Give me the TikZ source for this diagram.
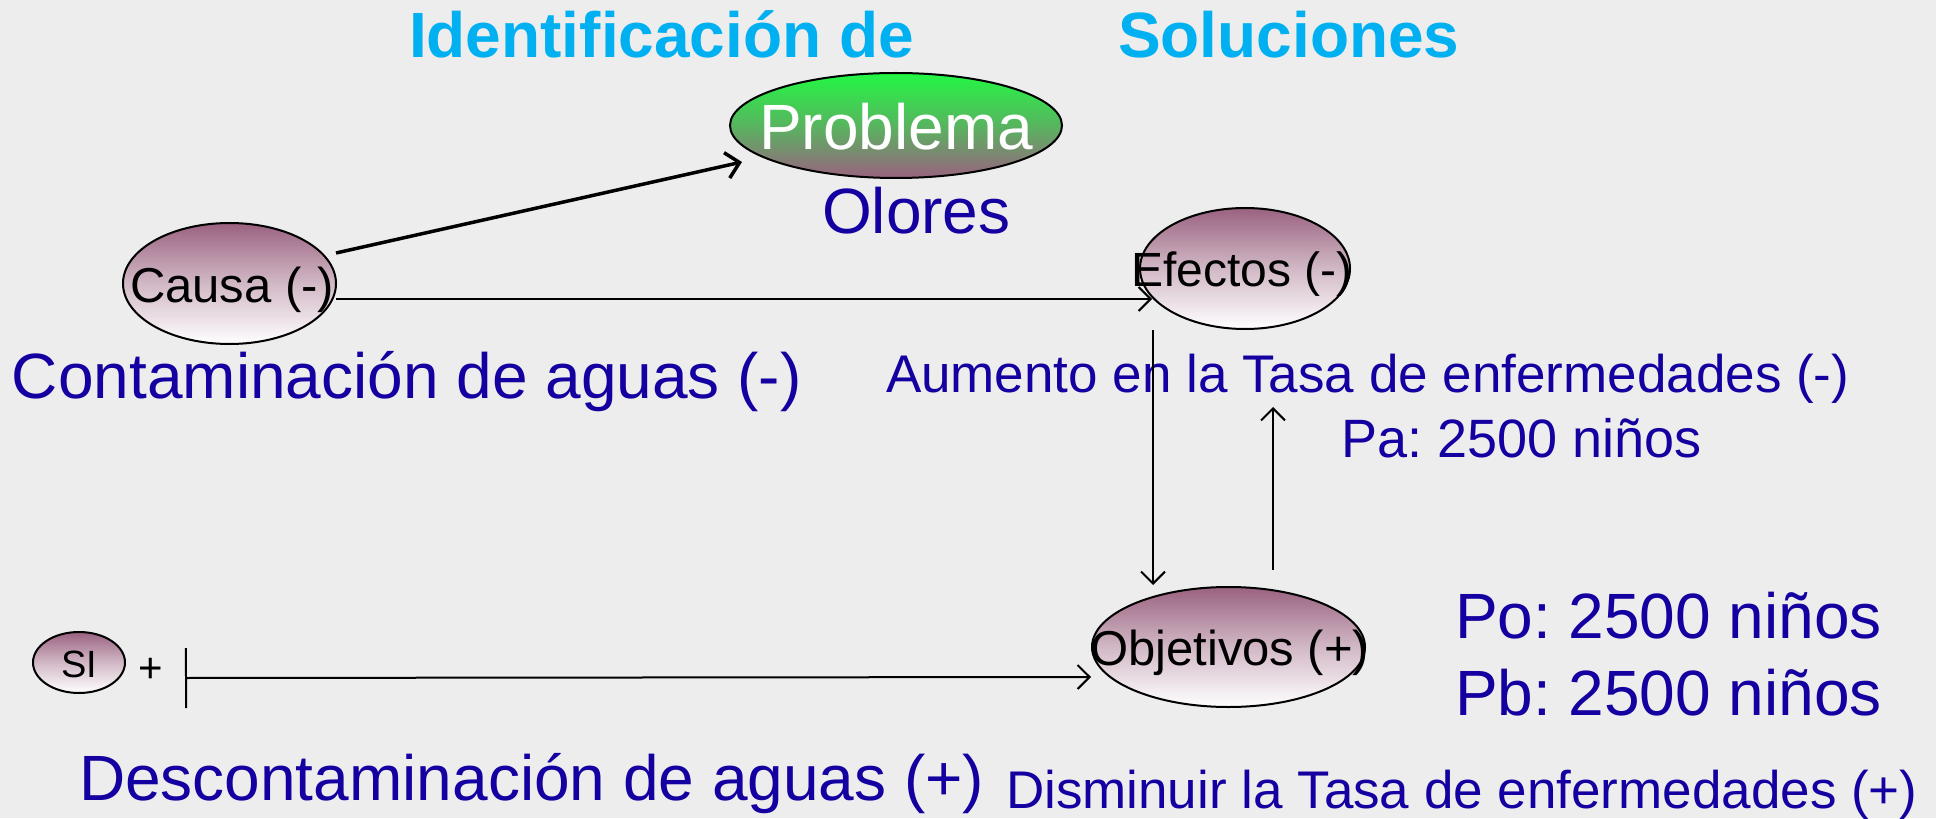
\documentclass[tikz,border=0pt]{standalone}
\usepackage{fontspec}
\setmainfont{Liberation Sans}
\usetikzlibrary{shapes.geometric,arrows.meta}
\definecolor{bg}{RGB}{237,237,237}
\definecolor{navy}{RGB}{20,0,160}
\definecolor{cyanT}{RGB}{0,176,240}
\definecolor{mauve}{RGB}{154,98,128}
\definecolor{lgreen}{RGB}{34,248,68}
\frenchspacing
\begin{document}
\begin{tikzpicture}[x=1pt,y=-1pt,
  ell/.style={ellipse, draw=black, line width=2pt, inner sep=0pt, outer sep=0pt},
  mauveell/.style={ell, top color=mauve, bottom color=white, middle color=mauve!45!white},
  greenell/.style={ell, top color=lgreen, bottom color=mauve, middle color=lgreen!55!mauve},
  txt/.style={anchor=base west, inner sep=0pt, outer sep=0pt},
  fs/.style={font=\fontsize{#1}{#1}\selectfont},
  conn/.style={line width=2pt, -{Straight Barb[length=12pt,width=24pt]}},
  thickconn/.style={line width=3.5pt, -{Straight Barb[length=13pt,width=26pt]}},
]
\fill[bg] (0,0) rectangle (1936,818);

% title
\node[txt, text=cyanT, font=\bfseries\fontsize{64}{64}\selectfont] (t1) at (409,58) {Identificación de};
\node[txt, text=cyanT, font=\bfseries\fontsize{64}{64}\selectfont] (t2) at (1118,58) {Soluciones};

% ellipses
\node[greenell, minimum width=332pt, minimum height=105pt] (problema) at (896,125.5) {};
\node[anchor=base, inner sep=0pt, text=white, fs=64] (problemat) at (896,150) {Problema};
\node[txt, text=navy, fs=64] (olores) at (822,234) {Olores};

\node[mauveell, minimum width=213pt, minimum height=121pt] (causa) at (229.5,283.5) {};
\node[txt, fs=49] (causat) at (130,302) {Causa (-)};

\node[mauveell, minimum width=210pt, minimum height=121pt] (efectos) at (1245,268.5) {};
\node[txt, fs=48] (efectost) at (1131,287) {Efectos (-)};

\node[mauveell, minimum width=273pt, minimum height=120pt] (objetivos) at (1228.5,647) {};
\node[txt, fs=49] (objetivost) at (1090,665) {Objetivos (+)};

\node[mauveell, minimum width=92pt, minimum height=61pt] (si) at (79,662.5) {};
\node[anchor=base, inner sep=0pt, fs=38] (sit) at (79,677) {SI};
\node[anchor=base, inner sep=0pt, fs=42] (plus) at (151,682) {+};

% labels
\node[txt, text=navy, fs=64] (cont) at (12,398) {Contaminación de aguas (-)};
\node[txt, text=navy, fs=53] (aum) at (886,392) {Aumento en la Tasa de enfermedades (-)};
\node[txt, text=navy, fs=54] (pa) at (1341,457) {Pa: 2500 niños};
\node[txt, text=navy, fs=64] (po) at (1455,638) {Po: 2500 niños};
\node[txt, text=navy, fs=64] (pb) at (1455,715) {Pb: 2500 niños};
\node[txt, text=navy, fs=53] (dis) at (1006,808) {Disminuir la Tasa de enfermedades (+)};
\node[txt, text=navy, fs=64] (desc) at (79,800) {Descontaminación de aguas (+)};

% connectors
\draw[thickconn] ([yshift=30.5pt]causa.east) -- ([xshift=-154pt,yshift=-36.5pt]problema.center);
\draw[conn] ([yshift=-15.5pt]causa.east) -- ([xshift=-93pt,yshift=-30.5pt]efectos.center);
\draw[conn] ([xshift=-92pt,yshift=-1pt]efectos.south) -- ([xshift=-75.5pt,yshift=2pt]objetivos.north);
\draw[conn] ([xshift=44.5pt,yshift=17pt]objetivos.north) -- ([xshift=28pt,yshift=-78pt]efectos.south);
\draw[line width=2pt, {Bar[width=60pt]}-{Straight Barb[length=12pt,width=24pt]}] ([xshift=60pt,yshift=-15.5pt]si.east) -- ([xshift=-1pt,yshift=-30pt]objetivos.west);
\end{tikzpicture}
\end{document}
